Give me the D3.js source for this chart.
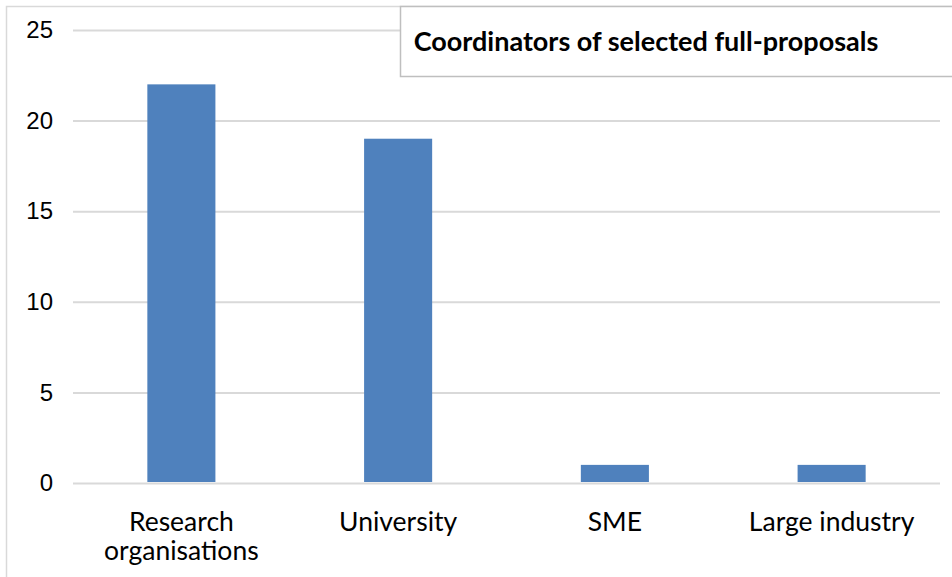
<!DOCTYPE html>
<html>
<head>
<meta charset="utf-8">
<script src="https://cdn.jsdelivr.net/npm/d3@7"></script>
<style>
  body { margin: 0; background: #fff; }
  svg { display: block; }
</style>
</head>
<body>
<svg id="chart"></svg>
<script>
const WIDTH = 952;
const HEIGHT = 577;
const BAR_COLOR = "#4F81BD";
const GRID_COLOR = "#D9D9D9";

// data
const categories = [["Research", "organisations"], ["University"], ["SME"], ["Large industry"]];
const values = [22, 19, 1, 1];
const yTicks = [0, 5, 10, 15, 20, 25];
const title = "Coordinators of selected full-proposals";

const plot = { left: 73, right: 940, top: 30, bottom: 483 };

const svg = d3.select("#chart").attr("width", WIDTH).attr("height", HEIGHT);

// outer chart border (only left/top visible in the frame)
svg.append("rect")
   .attr("x", 6.5).attr("y", 6.5)
   .attr("width", WIDTH + 20).attr("height", HEIGHT + 20)
   .attr("fill", "#fff")
   .attr("stroke", GRID_COLOR)
   .attr("stroke-width", 1.5);

const x = d3.scaleBand()
   .domain(d3.range(values.length))
   .range([plot.left, plot.right])
   .paddingInner(0.686)
   .paddingOuter(0.343);

const y = d3.scaleLinear()
   .domain([0, 25])
   .range([plot.bottom, plot.top]);

// gridlines + y labels through an axis
const yAxis = svg.append("g")
   .attr("transform", `translate(${plot.left},0)`)
   .call(d3.axisLeft(y).tickValues(yTicks).tickSize(-(plot.right - plot.left)).tickPadding(20));
yAxis.select(".domain").remove();
yAxis.selectAll(".tick line").attr("stroke", GRID_COLOR).attr("stroke-width", 2);
yAxis.selectAll(".tick text")
   .attr("fill", "#000")
   .style("font-family", "'Liberation Sans', Arial, sans-serif")
   .style("font-size", "24px");

svg.append("g").selectAll("rect")
   .data(values)
   .join("rect")
   .attr("x", (_, i) => x(i))
   .attr("y", d => y(d))
   .attr("width", x.bandwidth())
   .attr("height", d => y(0) - y(d) - 1)
   .attr("fill", BAR_COLOR);

// category labels
const labels = svg.append("g")
   .style("font-family", "Lato, 'Open Sans', sans-serif")
   .style("font-size", "26.5px")
   .attr("fill", "#000")
   .attr("text-anchor", "middle");
categories.forEach((lines, i) => {
   const t = labels.append("text")
      .attr("x", x(i) + x.bandwidth() / 2)
      .attr("y", 531);
   lines.forEach((line, j) => {
      t.append("tspan")
         .attr("x", x(i) + x.bandwidth() / 2)
         .attr("dy", j === 0 ? 0 : 29)
         .text(line);
   });
});

// title box
svg.append("rect")
   .attr("x", 400.5).attr("y", 6.5)
   .attr("width", 600).attr("height", 70)
   .attr("fill", "#fff")
   .attr("stroke", "#BFBFBF")
   .attr("stroke-width", 1.5);

svg.append("text")
   .attr("x", 646).attr("y", 51)
   .attr("text-anchor", "middle")
   .style("font-family", "Lato, 'Open Sans', sans-serif")
   .style("font-weight", "bold")
   .style("font-size", "27px")
   .attr("fill", "#000")
   .text(title);
</script>
</body>
</html>
